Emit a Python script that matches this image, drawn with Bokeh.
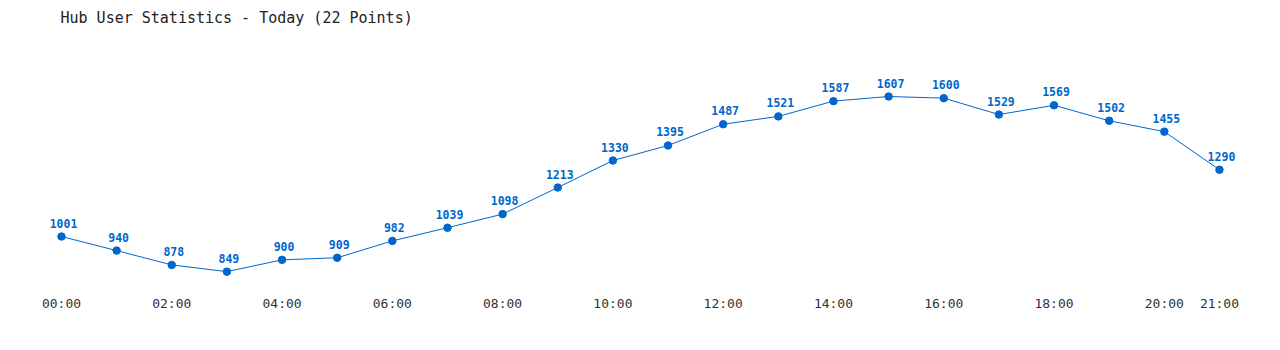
from bokeh.plotting import figure
from bokeh.models import ColumnDataSource, FixedTicker, Range1d, Label, LabelSet
from bokeh.core.properties import value
from bokeh.embed import file_html
from bokeh.resources import INLINE

hours = list(range(22))
users = [1001, 940, 878, 849, 900, 909, 982, 1039, 1098, 1213, 1330,
         1395, 1487, 1521, 1587, 1607, 1600, 1529, 1569, 1502, 1455, 1290]
tick_positions = [0, 2, 4, 6, 8, 10, 12, 14, 16, 18, 20, 21]
tick_labels = ["00:00", "02:00", "04:00", "06:00", "08:00", "10:00",
               "12:00", "14:00", "16:00", "18:00", "20:00", "21:00"]
title_text = "Hub User Statistics - Today (22 Points)"

BLUE = "#0066cc"
MONO = "DejaVu Sans Mono"

src = ColumnDataSource(dict(x=hours, y=users, lbl=[str(v) for v in users]))

p = figure(frame_width=1280, frame_height=290, output_backend="svg",
           toolbar_location=None, min_border=0,
           x_range=Range1d(-1.106, 22.107), y_range=Range1d(767.3, 2022.6))
p.outline_line_color = None
p.grid.visible = False
p.yaxis.visible = False
p.background_fill_color = "white"
p.border_fill_color = "white"

xa = p.xaxis[0]
xa.ticker = FixedTicker(ticks=tick_positions)
xa.major_label_overrides = {t: l for t, l in zip(tick_positions, tick_labels)}
xa.axis_line_color = None
xa.major_tick_line_color = None
xa.minor_tick_line_color = None
xa.major_tick_out = 0
xa.major_tick_in = 0
xa.major_label_text_font = MONO
xa.major_label_text_font_size = "13px"
xa.major_label_text_color = "#333333"
xa.major_label_standoff = 5

p.line("x", "y", source=src, line_color=BLUE, line_width=1)
p.scatter("x", "y", source=src, size=7.5, fill_color=BLUE, line_color=BLUE)

labels = LabelSet(x="x", y="y", text="lbl", source=src, text_align="center",
                  text_baseline="bottom", x_offset=2, y_offset=9,
                  text_font=value(MONO), text_font_size=value("11.5px"),
                  text_font_style=value("bold"), text_color=value(BLUE))
p.add_layout(labels)

title = Label(x=-0.018, y=1944.7, text=title_text, text_font=MONO,
              text_font_size="15px", text_color="#222222",
              text_align="left", text_baseline="middle")
p.add_layout(title)

open("out.html", "w").write(file_html(p, INLINE))
